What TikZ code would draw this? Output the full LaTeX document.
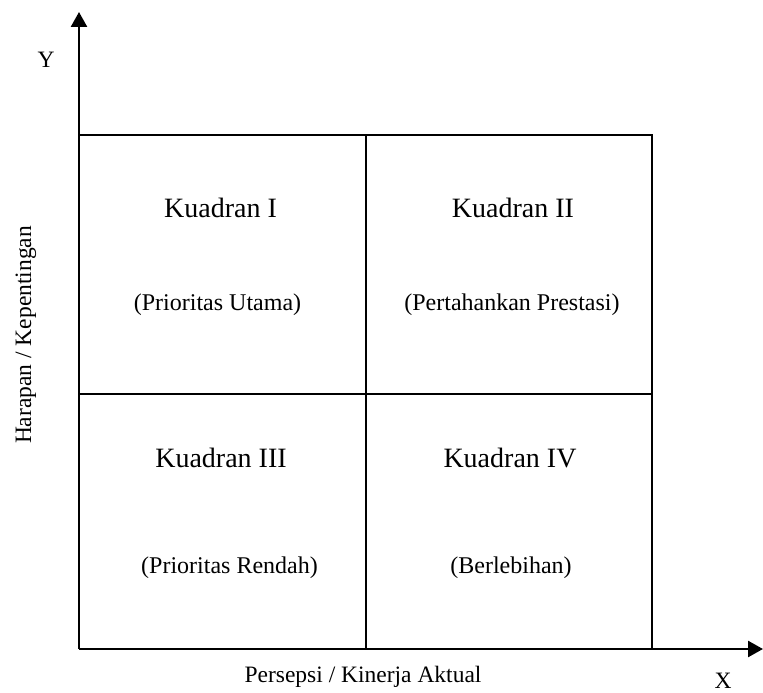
\documentclass[tikz,border=0pt]{standalone}
\usepackage{fontspec}
\setmainfont{Liberation Serif}
\usetikzlibrary{arrows.meta}
\begin{document}
\begin{tikzpicture}[x=1pt,y=-1pt,
  axis/.style={line width=2.5pt,-{Triangle[length=15pt,width=16pt]}},
  gridline/.style={line width=2pt},
  title/.style={font=\fontsize{28}{32}\selectfont, anchor=base, inner sep=0pt},
  sub/.style={font=\fontsize{24}{28}\selectfont, anchor=base, inner sep=0pt},
  lbl/.style={font=\fontsize{23.5}{27}\selectfont, inner sep=0pt}]
\useasboundingbox (0,0) rectangle (763,693);
\coordinate (O) at (79,649);
\coordinate (Ytip) at (79,12);
\coordinate (Xtip) at (763,649);
\coordinate (TL) at (79,135);
\coordinate (TR) at (652,135);
\coordinate (BR) at (652,649);
\coordinate (TM) at (366,135);
\coordinate (BM) at (366,649);
\coordinate (ML) at (79,394);
\coordinate (MR) at (652,394);
\draw[gridline] (TL) -- (TR) -- (BR);
\draw[gridline] (TM) -- (BM);
\draw[gridline] (ML) -- (MR);
\draw[axis] (O) -- (Ytip);
\draw[axis] (O) -- (Xtip);
\node[title] (q1) at (220.5,217) {Kuadran I};
\node[title] (q2) at (513,217) {Kuadran II};
\node[title] (q3) at (221,467) {Kuadran III};
\node[title] (q4) at (510,467) {Kuadran IV};
\node[sub] (s1) at (217.5,310) {(Prioritas Utama)};
\node[sub] (s2) at (512,310) {(Pertahankan Prestasi)};
\node[sub] (s3) at (229.5,573) {(Prioritas Rendah)};
\node[sub] (s4) at (511,573) {(Berlebihan)};
\node[lbl, rotate=90] (ylab) at (26,335) {Harapan / Kepentingan};
\node[lbl, anchor=base] (xlab) at (363,682) {Persepsi / Kinerja Aktual};
\node[lbl, anchor=base] (ylet) at (46,67) {Y};
\node[lbl, anchor=base] (xlet) at (723,688) {X};
\end{tikzpicture}
\end{document}
